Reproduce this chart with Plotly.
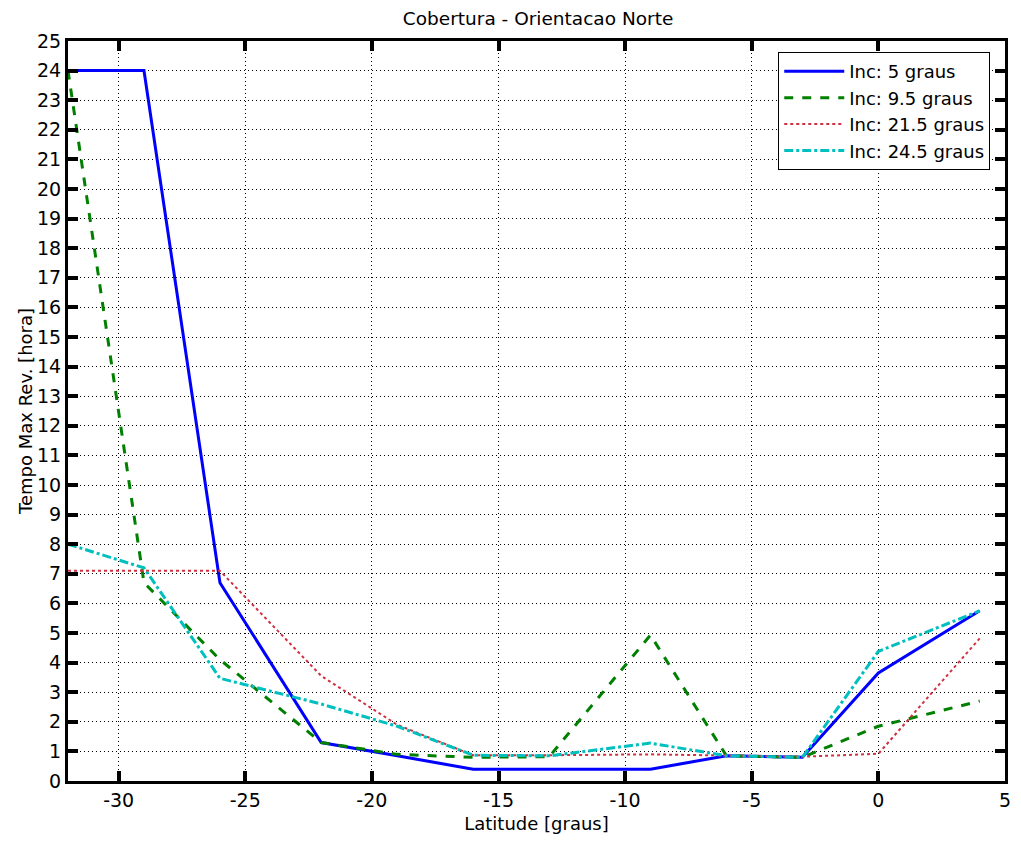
import plotly.graph_objects as go

lat = [-32, -29, -26, -22, -19, -16, -13, -9, -6, -3, 0, 4]
inc_5 = [24, 24, 6.7, 1.3, 0.85, 0.4, 0.4, 0.4, 0.85, 0.8, 3.65, 5.75]
inc_9_5 = [24, 6.7, 4.1, 1.3, 0.9, 0.8, 0.82, 4.93, 0.85, 0.8, 1.85, 2.7]
inc_21_5 = [7.1, 7.1, 7.1, 3.55, 1.9, 0.87, 0.87, 0.9, 0.87, 0.82, 0.92, 4.82]
inc_24_5 = [8.0, 7.2, 3.47, 2.6, 1.85, 0.87, 0.85, 1.28, 0.85, 0.8, 4.38, 5.75]

x_ticks = [-30, -25, -20, -15, -10, -5, 0, 5]
x_tick_text = ["-30", "-25", "-20", "-15", "-10", "-5", "0", "5"]

names = ["Inc: 5 graus", "Inc: 9.5 graus", "Inc: 21.5 graus", "Inc: 24.5 graus"]
series = [inc_5, inc_9_5, inc_21_5, inc_24_5]
styles = [
    dict(color="#0000FF", dash="solid", width=3),
    dict(color="#008000", dash="dash", width=3),
    dict(color="#D03040", dash="dot", width=2),
    dict(color="#00BFBF", dash="dashdot", width=3),
]

FONT = "DejaVu Sans"

fig = go.Figure()
for n, s, st in zip(names, series, styles):
    fig.add_trace(go.Scatter(x=lat, y=s, mode="lines", name=n, line=st))

axis_common = dict(
    showline=True, linecolor="black", linewidth=3, mirror="ticks",
    ticks="inside", ticklen=10, tickwidth=4, tickcolor="black",
    showgrid=True, gridcolor="black", gridwidth=1, griddash="1px,3px",
    zeroline=False, tickfont=dict(size=19, color="black", family=FONT),
)

fig.update_layout(
    width=1021, height=841,
    margin=dict(l=68, r=10, t=41, b=58),
    paper_bgcolor="white", plot_bgcolor="white",
    font=dict(family=FONT, color="black", size=18),
    title=dict(text="Cobertura - Orientacao Norte", x=0.527, xanchor="center",
               y=0.978, yanchor="middle", font=dict(size=18.5)),
    xaxis=dict(range=[-32, 5], tickvals=x_ticks, ticktext=x_tick_text,
               title=dict(text="Latitude [graus]", standoff=8, font=dict(size=18)),
               **axis_common),
    yaxis=dict(range=[0, 25], dtick=1,
               title=dict(text="Tempo Max Rev. [hora]", standoff=0, font=dict(size=18)),
               **axis_common),
    legend=dict(x=0.758, y=0.985, xanchor="left", yanchor="top",
                bgcolor="white", bordercolor="black", borderwidth=1,
                font=dict(size=18), tracegroupgap=0, itemwidth=60),
    showlegend=True,
)

fig.write_html("out.html")
